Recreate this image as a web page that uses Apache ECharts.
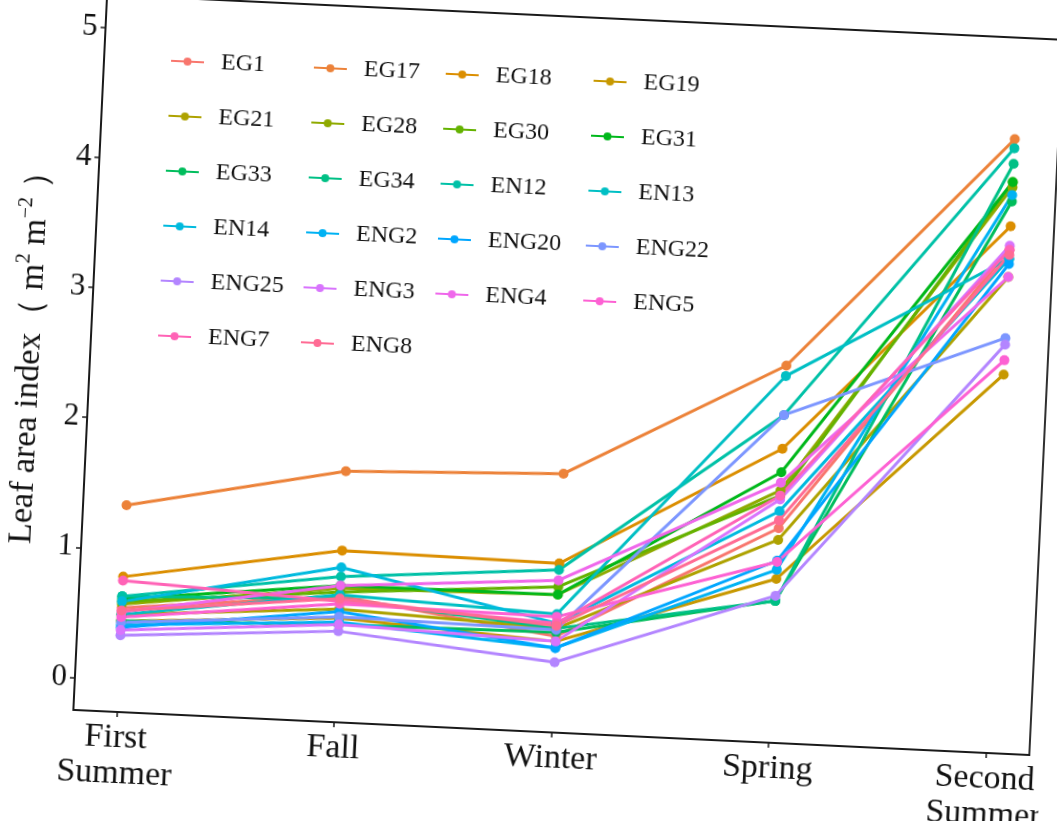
<!DOCTYPE html>
<html>
<head>
<meta charset="utf-8">
<script src="https://cdn.jsdelivr.net/npm/echarts@6/dist/echarts.min.js"></script>
<style>
html,body{margin:0;padding:0;background:#fff;overflow:hidden;}
#chart{width:1057px;height:821px;transform:rotate(2.7deg);transform-origin:528px 410px;}
</style>
</head>
<body>
<div id="chart"></div>
<script>
// ---- data ----
const categories = ['First\nSummer', 'Fall', 'Winter', 'Spring', 'Second\nSummer'];
const seriesNames = ['EG1','EG17','EG18','EG19','EG21','EG28','EG30','EG31','EG33','EG34','EN12','EN13','EN14','ENG2','ENG20','ENG22','ENG25','ENG3','ENG4','ENG5','ENG7','ENG8'];
const EG1   = [0.55, 0.72, 0.49, 1.40, 3.62];
const EG17  = [1.34, 1.68, 1.74, 2.65, 4.47];
const EG18  = [0.79, 1.07, 1.05, 2.01, 3.80];
const EG19  = [0.45, 0.55, 0.45, 1.01, 2.66];
const EG21  = [0.50, 0.62, 0.55, 1.31, 3.41];
const EG28  = [0.58, 0.78, 0.81, 1.69, 4.10];
const EG30  = [0.60, 0.75, 0.87, 1.65, 4.14];
const EG31  = [0.62, 0.80, 0.81, 1.83, 4.14];
const EG33  = [0.45, 0.50, 0.52, 0.84, 3.99];
const EG34  = [0.64, 0.70, 0.55, 0.84, 4.28];
const EN12  = [0.64, 0.87, 1.00, 2.27, 4.40];
const EN13  = [0.50, 0.73, 0.66, 2.57, 3.55];
const EN14  = [0.60, 0.94, 0.59, 1.53, 3.55];
const ENG2  = [0.42, 0.52, 0.40, 1.08, 4.04];
const ENG20 = [0.40, 0.60, 0.40, 1.15, 3.51];
const ENG22 = [0.44, 0.56, 0.54, 2.27, 2.94];
const ENG25 = [0.34, 0.45, 0.29, 0.88, 2.89];
const ENG3  = [0.38, 0.50, 0.45, 1.62, 3.65];
const ENG4  = [0.52, 0.80, 0.92, 1.75, 3.41];
const ENG5  = [0.48, 0.66, 0.64, 1.14, 2.77];
const ENG7  = [0.76, 0.68, 0.59, 1.65, 3.62];
const ENG8  = [0.53, 0.70, 0.57, 1.46, 3.58];
const seriesValues = [EG1,EG17,EG18,EG19,EG21,EG28,EG30,EG31,EG33,EG34,EN12,EN13,EN14,ENG2,ENG20,ENG22,ENG25,ENG3,ENG4,ENG5,ENG7,ENG8];
const yTicks = [0, 1, 2, 3, 4, 5];
const xTicks = [1, 2, 3, 4, 5];

// ---- ggplot-like hue palette ----
function hcl2hex(h, c, l) {
  const hr = h * Math.PI / 180;
  const U = c * Math.cos(hr), V = c * Math.sin(hr);
  const Y = l > 8 ? Math.pow((l + 16) / 116, 3) : l / 903.3;
  const un = 0.19784, vn = 0.46834;
  const u = U / (13 * l) + un, v = V / (13 * l) + vn;
  const X = 9 * Y * u / (4 * v);
  const Z = Y * (12 - 3 * u - 20 * v) / (4 * v);
  const lin = [
    3.2406 * X - 1.5372 * Y - 0.4986 * Z,
    -0.9689 * X + 1.8758 * Y + 0.0415 * Z,
    0.0557 * X - 0.2040 * Y + 1.0570 * Z
  ];
  return '#' + lin.map(function (ch) {
    ch = Math.max(0, Math.min(1, ch));
    ch = ch <= 0.0031308 ? 12.92 * ch : 1.055 * Math.pow(ch, 1 / 2.4) - 0.055;
    return ('0' + Math.round(ch * 255).toString(16)).slice(-2);
  }).join('');
}
const n = seriesNames.length;
const colors = seriesNames.map(function (_, i) { return hcl2hex(15 + i * 360 / n, 100, 65); });

const FONT = '"Liberation Serif", "Times New Roman", serif';

const series = seriesNames.map(function (name, i) {
  return {
    name: name,
    type: 'line',
    data: seriesValues[i].map(function (v, j) { return [xTicks[j], v]; }),
    symbol: 'circle',
    symbolSize: 10,
    lineStyle: { width: 3, color: colors[i] },
    itemStyle: { color: colors[i] },
    emphasis: { disabled: true },
    animation: false
  };
});

const legendLeft = [154, 297, 429, 577];
const legends = legendLeft.map(function (left, c) {
  const names = seriesNames.filter(function (_, i) { return i % 4 === c; });
  return {
    data: names,
    orient: 'vertical',
    left: left,
    top: 63,
    itemGap: 25,
    itemWidth: 33,
    itemHeight: 10,
    padding: 0,
    textStyle: { fontFamily: FONT, fontSize: 24, color: '#111', lineHeight: 30, padding: [0, 0, 0, 12] }
  };
});

const chart = echarts.init(document.getElementById('chart'), null, { renderer: 'canvas' });
chart.setOption({
  backgroundColor: '#fff',
  animation: false,
  color: colors,
  legend: legends,
  grid: {
    left: 88, right: 12, top: 15, bottom: 90,
    containLabel: false,
    outerBoundsMode: 'none',
    show: true, borderColor: '#1a1a1a', borderWidth: 1.8, backgroundColor: 'transparent'
  },
  xAxis: {
    type: 'value',
    min: 0.8, max: 5.2,
    axisLine: { show: true, onZero: false, lineStyle: { color: '#1a1a1a', width: 2 } },
    axisTick: { show: true, customValues: xTicks, length: 5, lineStyle: { color: '#1a1a1a', width: 1.5 } },
    splitLine: { show: false },
    axisLabel: {
      customValues: xTicks,
      formatter: function (v) { return categories[Math.round(v) - 1]; },
      fontFamily: FONT, fontSize: 34, color: '#111', lineHeight: 36, margin: 8
    }
  },
  yAxis: {
    type: 'value',
    min: -0.25, max: 5.25,
    name: 'Leaf area index（ m{sup|2} m{sup|−2} ）',
    nameLocation: 'middle',
    nameGap: 40,
    nameMoveOverlap: false,
    nameRotate: 90,
    nameTextStyle: {
      fontFamily: FONT, fontSize: 34, color: '#111', lineHeight: 40,
      rich: { sup: { fontFamily: FONT, fontSize: 20, color: '#111', verticalAlign: 'top', lineHeight: 20 } }
    },
    axisLine: { show: true, onZero: false, lineStyle: { color: '#1a1a1a', width: 2 } },
    axisTick: { show: true, customValues: yTicks, length: 5, lineStyle: { color: '#1a1a1a', width: 1.5 } },
    splitLine: { show: false },
    axisLabel: {
      customValues: yTicks,
      fontFamily: FONT, fontSize: 31, color: '#111', margin: 8
    }
  },
  series: series
});
</script>
</body>
</html>
